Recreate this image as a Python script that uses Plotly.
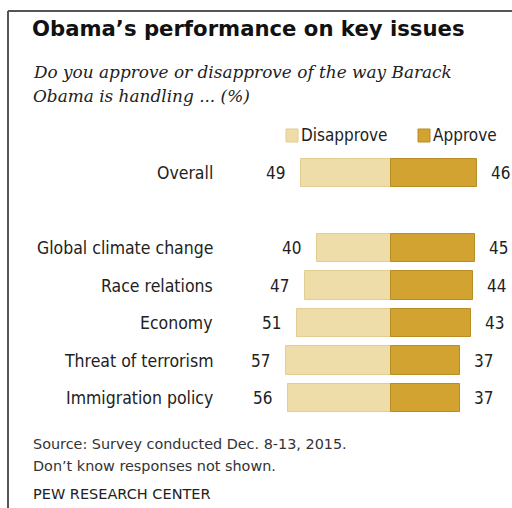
import plotly.graph_objects as go

# Survey data (%)
categories = ["Overall", "Global climate change", "Race relations", "Economy",
              "Threat of terrorism", "Immigration policy"]
disapprove = [49, 40, 47, 51, 57, 56]
approve = [46, 45, 44, 43, 37, 37]
# row slots: a blank slot separates "Overall" from the individual issues
slots = [0, 2, 3, 4, 5, 6]

W, H = 512, 508
LIGHT = "#EEDCA9"
DARK = "#D3A331"
TEXT = "#222222"
LABEL_FONT = "DejaVu Sans Condensed, Liberation Sans Narrow, Arial Narrow, sans-serif"
NOTE_FONT = "DejaVu Sans, sans-serif"

fig = go.Figure()
fig.add_trace(go.Bar(
    y=slots, x=[-v for v in disapprove], orientation="h", name="Disapprove",
    marker=dict(color=LIGHT, line=dict(color="#E2CD92", width=1)),
    width=0.75, hoverinfo="skip", showlegend=False,
))
fig.add_trace(go.Bar(
    y=slots, x=approve, orientation="h", name="Approve",
    marker=dict(color=DARK, line=dict(color="#B88C24", width=1)),
    width=0.75, hoverinfo="skip", showlegend=False,
))

ann = []
# category names (right aligned) and values at the bar ends
for cat, s, d, a in zip(categories, slots, disapprove, approve):
    ann.append(dict(x=-95.5, y=s, xref="x", yref="y", text=cat, showarrow=False,
                    xanchor="right", yanchor="middle",
                    font=dict(family=LABEL_FONT, size=17.5, color=TEXT)))
    ann.append(dict(x=-d, y=s, xref="x", yref="y", text=str(d), showarrow=False,
                    xanchor="right", yanchor="middle", xshift=-14,
                    font=dict(family=LABEL_FONT, size=17, color=TEXT)))
    ann.append(dict(x=a, y=s, xref="x", yref="y", text=str(a), showarrow=False,
                    xanchor="left", yanchor="middle", xshift=12,
                    font=dict(family=LABEL_FONT, size=17, color=TEXT)))


def py(px):
    return 1 - px / H


def px_x(px):
    return px / W


# heading, question, notes
ann.append(dict(x=px_x(30), y=py(28), xref="paper", yref="paper",
                text="<b>Obama’s performance on key issues</b>", showarrow=False,
                xanchor="left", yanchor="middle",
                font=dict(family="DejaVu Sans, sans-serif", size=21.2, color="#111111")))
ann.append(dict(x=px_x(31), y=py(72), xref="paper", yref="paper",
                text="<i>Do you approve or disapprove of the way Barack</i>", showarrow=False,
                xanchor="left", yanchor="middle",
                font=dict(family="DejaVu Serif, serif", size=16.9, color=TEXT)))
ann.append(dict(x=px_x(31), y=py(96), xref="paper", yref="paper",
                text="<i>Obama is handling ... (%)</i>", showarrow=False,
                xanchor="left", yanchor="middle",
                font=dict(family="DejaVu Serif, serif", size=16.9, color=TEXT)))
ann.append(dict(x=px_x(31), y=py(444), xref="paper", yref="paper",
                text="Source: Survey conducted Dec. 8-13, 2015.", showarrow=False,
                xanchor="left", yanchor="middle",
                font=dict(family=NOTE_FONT, size=14.4, color="#333333")))
ann.append(dict(x=px_x(31), y=py(466), xref="paper", yref="paper",
                text="Don’t know responses not shown.", showarrow=False,
                xanchor="left", yanchor="middle",
                font=dict(family=NOTE_FONT, size=14.4, color="#333333")))
ann.append(dict(x=px_x(31), y=py(494), xref="paper", yref="paper",
                text="PEW RESEARCH CENTER", showarrow=False,
                xanchor="left", yanchor="middle",
                font=dict(family=NOTE_FONT, size=14.5, color="#222222")))

# legend
ann.append(dict(x=px_x(299), y=py(135), xref="paper", yref="paper",
                text="Disapprove", showarrow=False, xanchor="left", yanchor="middle",
                font=dict(family=LABEL_FONT, size=17, color=TEXT)))
ann.append(dict(x=px_x(431), y=py(135), xref="paper", yref="paper",
                text="Approve", showarrow=False, xanchor="left", yanchor="middle",
                font=dict(family=LABEL_FONT, size=17, color=TEXT)))

shapes = [
    # frame: top and left rules
    dict(type="line", xref="paper", yref="paper", x0=px_x(8), x1=1, y0=py(11), y1=py(11),
         line=dict(color="#555555", width=2)),
    dict(type="line", xref="paper", yref="paper", x0=px_x(8), x1=px_x(8), y0=py(11), y1=0,
         line=dict(color="#555555", width=2)),
    # legend swatches
    dict(type="rect", xref="paper", yref="paper", x0=px_x(286), x1=px_x(298),
         y0=py(142), y1=py(129), fillcolor=LIGHT, line=dict(color="#E2CD92", width=1)),
    dict(type="rect", xref="paper", yref="paper", x0=px_x(418), x1=px_x(430),
         y0=py(142), y1=py(129), fillcolor=DARK, line=dict(color="#B88C24", width=1)),
]

fig.update_layout(
    width=W, height=H,
    margin=dict(l=0, r=0, t=0, b=0),
    paper_bgcolor="white", plot_bgcolor="white",
    barmode="relative", bargap=0,
    xaxis=dict(range=[-211.6, 65.15], visible=False, fixedrange=True),
    yaxis=dict(range=[8.933, -4.613], visible=False, fixedrange=True),
    annotations=ann, shapes=shapes,
    showlegend=False,
)

fig.write_html("out.html", config={"displayModeBar": False})
